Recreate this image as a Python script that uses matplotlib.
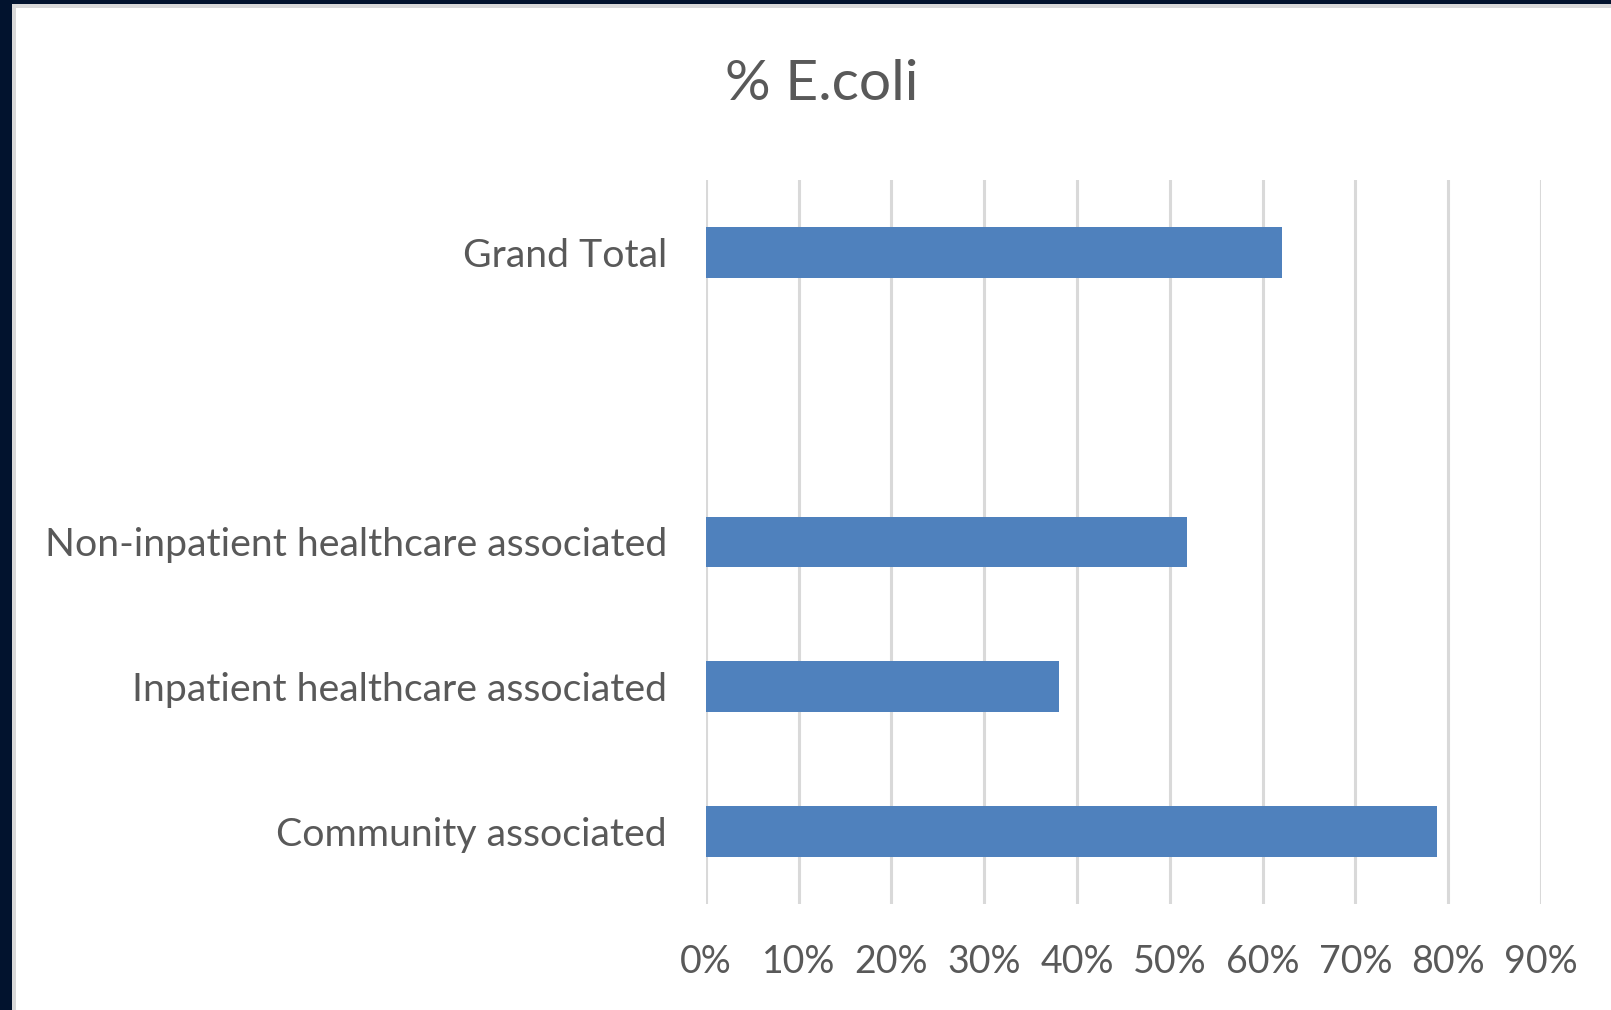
import matplotlib.pyplot as plt
from matplotlib.patches import Rectangle
from matplotlib.ticker import FuncFormatter

plt.rcParams['font.family'] = ['Lato', 'DejaVu Sans']

# categories from bottom to top; the blank slot leaves the gap under Grand Total
categories = ['Community associated', 'Inpatient healthcare associated',
              'Non-inpatient healthcare associated', '', 'Grand Total']
pct_ecoli = [0.788, 0.381, 0.518, None, 0.621]
x_ticks = [0.0, 0.1, 0.2, 0.3, 0.4, 0.5, 0.6, 0.7, 0.8, 0.9]

text_grey = '#595959'
bar_blue = '#4f81bd'

fig = plt.figure(figsize=(16.11, 10.10), dpi=100)
fig.patch.set_facecolor('white')

# slide background showing at the left and top edges
fig.patches.append(Rectangle((0, 0), 12 / 1611, 1, transform=fig.transFigure,
                             facecolor='#02132e', edgecolor='none', zorder=0))
fig.patches.append(Rectangle((0, 1 - 4 / 1010), 1, 4 / 1010, transform=fig.transFigure,
                             facecolor='#02132e', edgecolor='none', zorder=0))
fig.patches.append(Rectangle((12 / 1611, 0), 4 / 1611, 1 - 4 / 1010, transform=fig.transFigure,
                             facecolor='#d9d9d9', edgecolor='none', zorder=0))
fig.patches.append(Rectangle((12 / 1611, 1 - 8 / 1010), 1, 4 / 1010, transform=fig.transFigure,
                             facecolor='#d9d9d9', edgecolor='none', zorder=0))

ax = fig.add_axes([0.4382, 0.1050, 0.5183, 0.7168])

ypos = list(range(len(categories)))
vals = [v if v is not None else 0 for v in pct_ecoli]
ax.barh(ypos, vals, height=0.35, color=bar_blue, zorder=3)

ax.set_xlim(0, 0.9)
ax.set_ylim(-0.5, len(categories) - 0.5)
ax.set_xticks(x_ticks)
ax.xaxis.set_major_formatter(FuncFormatter(lambda v, p: f'{v * 100:.0f}%'))
ax.set_yticks(ypos)
ax.set_yticklabels(categories)

ax.grid(axis='x', color='#d9d9d9', linewidth=2.2, zorder=0)
ax.set_axisbelow(True)
for s in ax.spines.values():
    s.set_visible(False)

ax.tick_params(axis='x', length=0, pad=29, labelsize=27, labelcolor=text_grey)
ax.tick_params(axis='y', length=0, pad=28, labelsize=28.3, labelcolor=text_grey)

fig.text(0.510, 0.916, '% E.coli', ha='center', va='center',
         fontsize=41, color=text_grey)

fig.savefig('out.png', dpi=100)
